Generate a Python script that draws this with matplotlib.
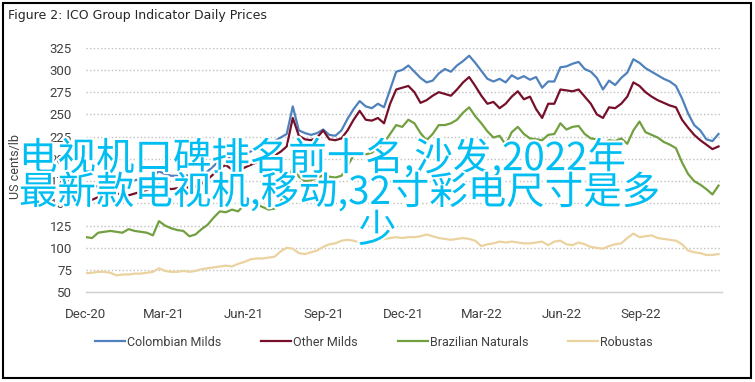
import matplotlib
matplotlib.use("Agg")
import matplotlib.pyplot as plt
import matplotlib.dates as mdates
import matplotlib.patheffects as pe
from matplotlib.patches import Rectangle
import pandas as pd

plt.rcParams['font.family'] = ['Roboto', 'DejaVu Sans']

title = "Figure 2: ICO Group Indicator Daily Prices"
ylabel = "US cents/lb"
series_names = ["Colombian Milds", "Other Milds", "Brazilian Naturals", "Robustas"]
overlay_lines = ["电视机口碑排名前十名,沙发,2022年", "最新款电视机,移动,32寸彩电尺寸是多", "少"]

dates = pd.date_range("2020-12-01", periods=105, freq="7D")

colombian = [165,167,170,172,174,175,174,175,176,177,178,181,186,183,181,181,182,181,180,181,186,192,199,203,201,200,204,
             208,212,215,218,220,224,228,259,232,229,227,229,233,227,226,232,245,256,265,259,257,262,258,278,298,300,
             305,298,291,286,288,296,301,298,305,310,316,308,299,290,287,290,286,294,290,293,289,292,280,287,287,303,
             304,307,309,301,298,291,278,288,283,291,297,312,308,302,298,294,290,287,282,268,251,238,232,222,220,228]
other = [153,154,157,160,161,161,160,159,161,163,165,168,171,168,166,167,167,168,169,172,177,183,190,193,188,187,190,
         193,196,199,202,204,208,214,246,226,222,221,224,232,222,221,223,232,244,254,244,243,246,240,262,278,280,
         282,275,263,266,271,275,273,271,278,286,292,282,271,262,264,257,262,270,276,267,270,256,246,262,262,278,
         277,276,278,270,262,250,246,258,257,262,270,286,282,275,270,266,263,260,258,244,235,227,221,216,211,214]
brazilian = [112,111,117,118,119,118,117,121,119,118,117,114,130,125,122,120,119,113,115,121,126,134,141,140,143,141,148,
             152,149,146,143,144,152,165,192,180,175,176,178,182,180,179,181,192,204,208,205,207,212,218,228,238,236,
             244,240,229,221,228,238,238,240,244,252,258,248,240,231,224,226,216,230,236,228,223,222,221,227,228,240,
             233,236,237,228,223,222,217,221,220,223,217,232,242,230,227,224,219,216,212,196,183,175,171,166,160,170]
robustas = [71.5,72,73,73,72,69,70,70,71,71,72,73,77,74,73,73,74,73,74,76,77,78,79,80,79,82,84,
            87,88,88,89,90,96,100,99,94,93,95,97,101,104,105,108,109,108,106,107,108,108,110,111,112,111,
            112,112,113,115,113,111,110,109,110,111,110,108,102,104,105,107,106,107,106,105,105,106,107,103,107,108,
            104,103,106,104,101,100,99,102,104,105,111,116,112,113,114,111,110,109,108,104,97,95,94,92,92,93]

colors = ["#4F81BD", "#76102A", "#72A040", "#EBD3A0"]
yticks = [50, 75, 100, 125, 150, 175, 200, 225, 250, 275, 300, 325]
xtick_dates = ["2020-12-01", "2021-03-01", "2021-06-01", "2021-09-01", "2021-12-01",
               "2022-03-01", "2022-06-01", "2022-09-01"]

W, H = 755, 382
fig = plt.figure(figsize=(W / 100, H / 100), dpi=100)
ax = fig.add_axes([86 / W, 1 - 292.3 / H, (722 - 86) / W, (292.3 - 47.7) / H])

handles = []
for vals, c, name in zip([colombian, other, brazilian, robustas], colors, series_names):
    h, = ax.plot(dates, vals, color=c, lw=1.6, label=name, solid_joinstyle='round')
    handles.append(h)

ax.set_ylim(50, 325)
ax.set_xlim(pd.Timestamp("2020-12-01"), pd.Timestamp("2022-12-03"))
ax.set_yticks(yticks)
ax.set_xticks(pd.to_datetime(xtick_dates))
ax.xaxis.set_major_formatter(mdates.DateFormatter("%b-%y"))
ax.tick_params(axis='both', length=0, labelsize=9.5, colors="#404040")
ax.tick_params(axis='y', pad=10)
ax.tick_params(axis='x', pad=11)
ax.yaxis.grid(True, linestyle=(0, (1, 1.6)), color="#C0C0C0", lw=1.0)
ax.set_axisbelow(True)
for s in ["top", "right", "left"]:
    ax.spines[s].set_visible(False)
ax.spines["bottom"].set_color("#D0D0D0")
ax.spines["bottom"].set_linewidth(1.0)

fig.text(16 / W, 1 - 167 / H, ylabel, rotation=90, ha='center', va='center',
         fontsize=9, color="#404040")
fig.text(8 / W, 1 - 16 / H, title, ha='left', va='center', fontsize=9,
         family=['DejaVu Sans'], color="#262626")

fig.legend(handles=handles, labels=series_names, loc='center', ncol=4,
           bbox_to_anchor=(374 / W, 1 - 342 / H), frameon=False, fontsize=9,
           handlelength=2.4, handletextpad=0.15, columnspacing=3.2, labelcolor="#404040")

fig.add_artist(Rectangle((3 / W, 4 / H), 748 / W, 375 / H, fill=False, lw=1.5,
                         edgecolor='black', transform=fig.transFigure))

cjk = ['Noto Sans CJK SC', 'DejaVu Sans']
stroke = [pe.withStroke(linewidth=3, foreground='white')]
positions = [(19, 159), (19, 193), (358, 231)]
for txt, (px, py) in zip(overlay_lines, positions):
    fig.text(px / W, 1 - py / H, txt, ha='left', va='center', fontsize=27.7,
             family=cjk, color="#00BEF2", path_effects=stroke, zorder=10)

fig.savefig("out.png", dpi=100)
